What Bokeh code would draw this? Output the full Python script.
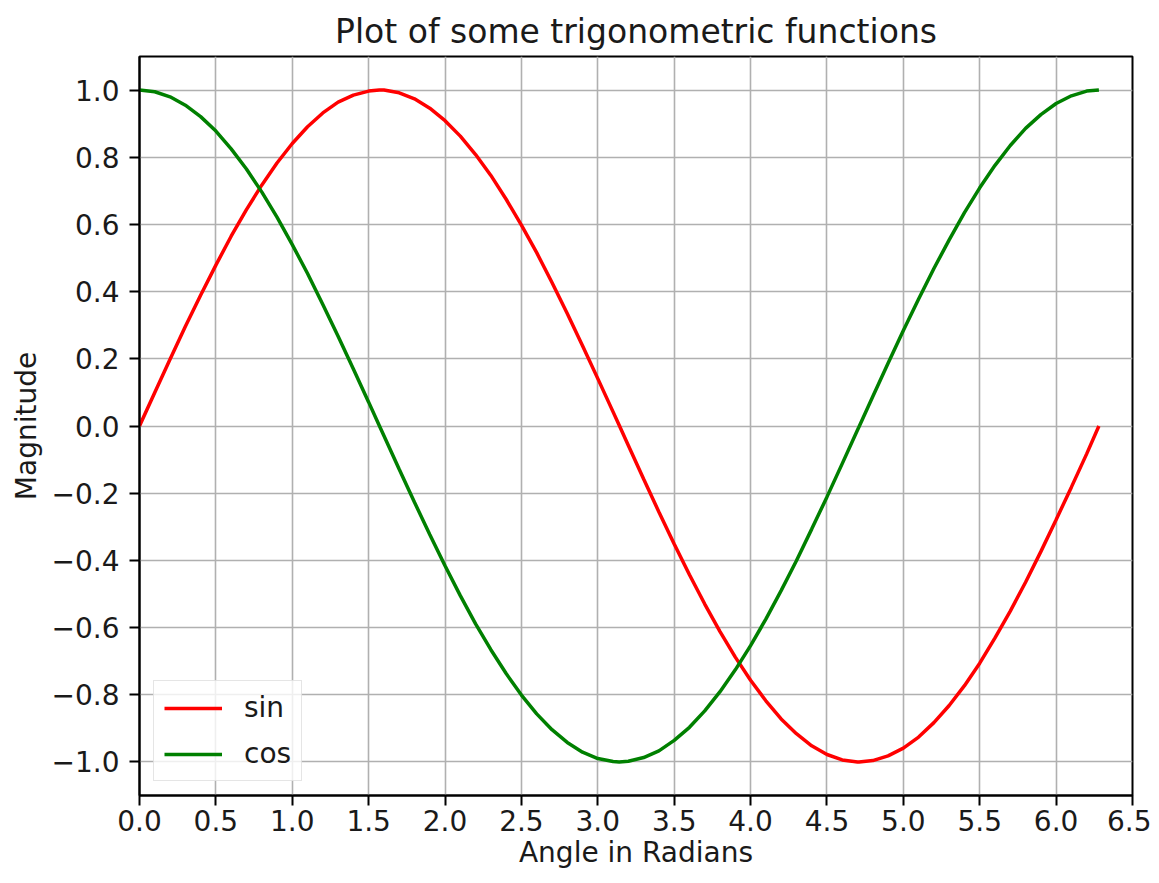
from bokeh.plotting import figure
from bokeh.models import FixedTicker, Range1d, Legend, LegendItem
from bokeh.embed import file_html
from bokeh.resources import INLINE

x = [0.0, 0.1, 0.2, 0.3, 0.4, 0.5, 0.6, 0.7, 0.8, 0.9,
     1.0, 1.1, 1.2, 1.3, 1.4, 1.5, 1.57, 1.6, 1.7, 1.8, 1.9,
     2.0, 2.1, 2.2, 2.3, 2.4, 2.5, 2.6, 2.7, 2.8, 2.9,
     3.0, 3.1, 3.14, 3.2, 3.3, 3.4, 3.5, 3.6, 3.7, 3.8, 3.9,
     4.0, 4.1, 4.2, 4.3, 4.4, 4.5, 4.6, 4.7, 4.71, 4.8, 4.9,
     5.0, 5.1, 5.2, 5.3, 5.4, 5.5, 5.6, 5.7, 5.8, 5.9,
     6.0, 6.1, 6.2, 6.28]
sin_vals = [0.000, 0.100, 0.199, 0.296, 0.389, 0.479, 0.565, 0.644, 0.717, 0.783,
            0.841, 0.891, 0.932, 0.964, 0.985, 0.997, 1.000, 1.000, 0.992, 0.974, 0.946,
            0.909, 0.863, 0.808, 0.746, 0.675, 0.598, 0.516, 0.427, 0.335, 0.239,
            0.141, 0.042, 0.002, -0.058, -0.158, -0.256, -0.351, -0.443, -0.530, -0.612, -0.688,
            -0.757, -0.818, -0.872, -0.916, -0.952, -0.978, -0.994, -1.000, -1.000, -0.996, -0.982,
            -0.959, -0.926, -0.883, -0.832, -0.773, -0.706, -0.631, -0.551, -0.465, -0.374,
            -0.279, -0.182, -0.083, 0.000]
cos_vals = [1.000, 0.995, 0.980, 0.955, 0.921, 0.878, 0.825, 0.765, 0.697, 0.622,
            0.540, 0.454, 0.362, 0.267, 0.170, 0.071, 0.001, -0.029, -0.129, -0.227, -0.323,
            -0.416, -0.505, -0.589, -0.666, -0.737, -0.801, -0.857, -0.904, -0.942, -0.971,
            -0.990, -0.999, -1.000, -0.998, -0.987, -0.967, -0.936, -0.897, -0.848, -0.791, -0.726,
            -0.654, -0.575, -0.490, -0.401, -0.307, -0.211, -0.112, -0.012, -0.002, 0.088, 0.187,
            0.284, 0.378, 0.469, 0.554, 0.635, 0.709, 0.776, 0.835, 0.886, 0.927,
            0.960, 0.983, 0.997, 1.000]

x_ticks = [0.0, 0.5, 1.0, 1.5, 2.0, 2.5, 3.0, 3.5, 4.0, 4.5, 5.0, 5.5, 6.0, 6.5]
y_ticks = [-1.0, -0.8, -0.6, -0.4, -0.2, 0.0, 0.2, 0.4, 0.6, 0.8, 1.0]

FONT = "DejaVu Sans"
TXT = "#1a1a1a"

p = figure(width=1151, height=875, output_backend="svg", toolbar_location=None,
           x_range=Range1d(0, 6.5), y_range=Range1d(-1.1, 1.1),
           min_border_left=139, min_border_right=19, min_border_top=56, min_border_bottom=80)

p.title.text = "Plot of some trigonometric functions"
p.title.align = "center"
p.title.text_font = FONT
p.title.text_font_size = "33px"
p.title.text_font_style = "normal"
p.title.text_color = TXT
p.title.standoff = 11

r_sin = p.line(x, sin_vals, line_color="#ff0000", line_width=3.5)
r_cos = p.line(x, cos_vals, line_color="#008000", line_width=3.5)

p.xaxis.ticker = FixedTicker(ticks=x_ticks)
p.yaxis.ticker = FixedTicker(ticks=y_ticks)
p.xaxis.major_label_overrides = {t: f"{t:.1f}" for t in x_ticks}
p.yaxis.major_label_overrides = {t: f"{t:.1f}".replace("-", "\u2212") for t in y_ticks}

for ax in (p.xaxis[0], p.yaxis[0]):
    ax.minor_tick_line_color = None
    ax.major_tick_out = 10
    ax.major_tick_in = 0
    ax.major_tick_line_width = 2
    ax.axis_line_width = 2
    ax.axis_line_color = "black"
    ax.major_tick_line_color = "black"
    ax.major_label_text_font = FONT
    ax.major_label_text_font_size = "28px"
    ax.major_label_text_color = TXT
    ax.axis_label_text_font = FONT
    ax.axis_label_text_font_size = "28px"
    ax.axis_label_text_font_style = "normal"
    ax.axis_label_text_color = TXT

p.xaxis.major_label_standoff = 4
p.yaxis.major_label_standoff = 10
p.xaxis.axis_label_standoff = 2
p.yaxis.axis_label_standoff = 6

p.xaxis.axis_label = "Angle in Radians"
p.yaxis.axis_label = "Magnitude"

p.outline_line_color = "black"
p.outline_line_width = 2
p.outline_line_alpha = 1.0

p.xgrid.grid_line_color = "#b0b0b0"
p.ygrid.grid_line_color = "#b0b0b0"
p.xgrid.grid_line_width = 1.6
p.ygrid.grid_line_width = 1.6

legend = Legend(items=[LegendItem(label="sin", renderers=[r_sin]),
                       LegendItem(label="cos", renderers=[r_cos])],
                location=(14, 14))
legend.label_text_font = FONT
legend.label_text_font_size = "28px"
legend.label_text_color = TXT
legend.glyph_width = 58
legend.glyph_height = 30
legend.label_height = 30
legend.label_width = 45
legend.label_standoff = 22
legend.spacing = 13
legend.padding = 10
legend.margin = 0
legend.border_line_color = "#cccccc"
legend.border_line_width = 1.5
legend.background_fill_alpha = 0.8
p.add_layout(legend, "center")

open("out.html", "w").write(file_html(p, INLINE))
